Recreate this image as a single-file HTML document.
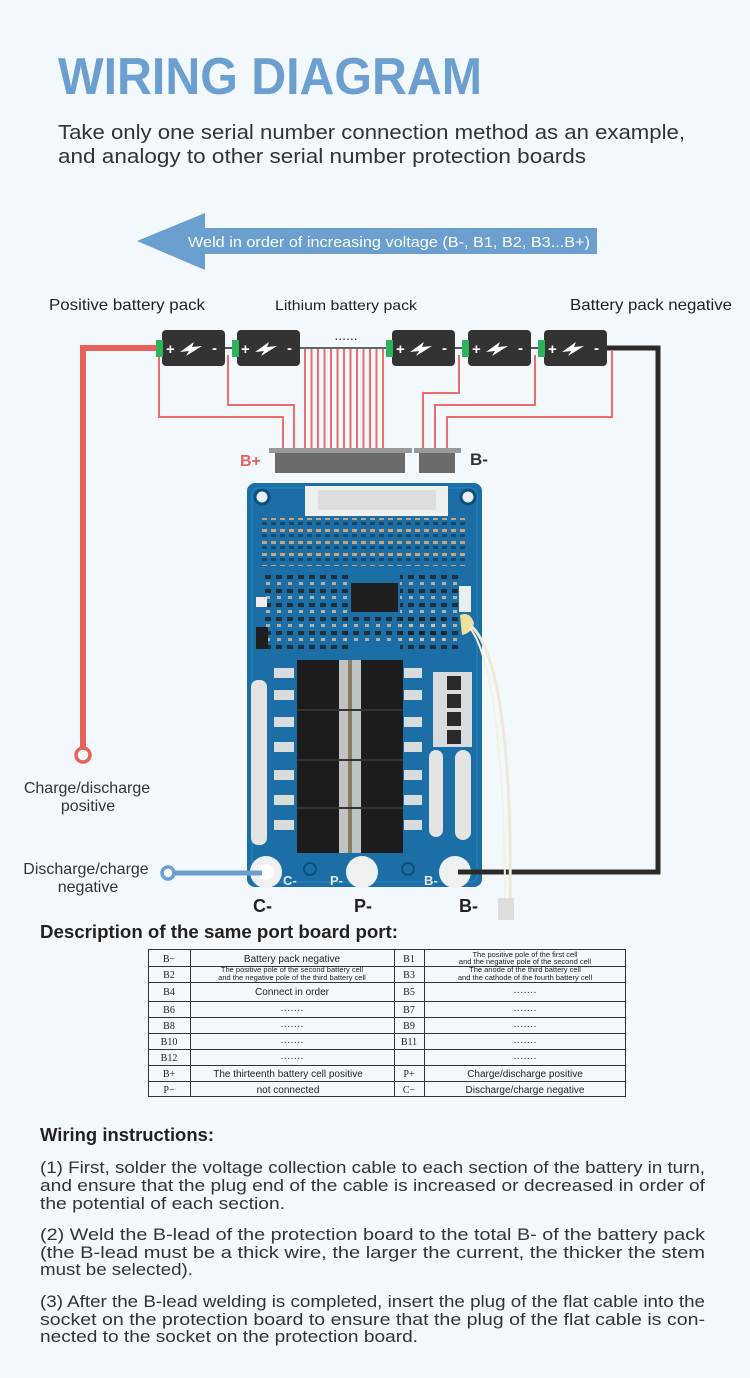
<!DOCTYPE html>
<html><head><meta charset="utf-8"><style>
html,body{margin:0;padding:0;background:#f3f8fd;}
svg{display:block;}
text{font-family:"Liberation Sans",sans-serif;}
.s{font-family:"Liberation Serif",serif;}
</style></head><body>
<svg width="750" height="1378" viewBox="0 0 750 1378" xmlns="http://www.w3.org/2000/svg">
<defs>
<pattern id="comp" width="9" height="12" patternUnits="userSpaceOnUse">
<rect x="1" y="1" width="5" height="3" fill="#c9a27a"/>
<rect x="1" y="6" width="5" height="3" fill="#14496f"/>
</pattern>
<pattern id="comp2" width="11" height="14" patternUnits="userSpaceOnUse">
<rect x="1" y="1" width="6" height="4" fill="#1f1f1f" opacity=".8"/>
<rect x="2" y="8" width="4" height="3" fill="#d6c3a5" opacity=".8"/>
</pattern>
</defs>
<rect width="750" height="1378" fill="#f3f8fd"/>
<!-- Title -->
<text x="58" y="94" font-size="52" font-weight="bold" fill="#6a9fcf" textLength="424" lengthAdjust="spacingAndGlyphs">WIRING DIAGRAM</text>
<text x="58" y="139" font-size="20" fill="#333" textLength="627" lengthAdjust="spacingAndGlyphs">Take only one serial number connection method as an example,</text>
<text x="58" y="163" font-size="20" fill="#333" textLength="528" lengthAdjust="spacingAndGlyphs">and analogy to other serial number protection boards</text>
<!-- Arrow -->
<polygon points="137,241 205,213 205,228 597,228 597,254 205,254 205,270" fill="#6a9fcf"/>
<text x="188" y="247" font-size="15" fill="#fff" textLength="402" lengthAdjust="spacingAndGlyphs">Weld in order of increasing voltage (B-, B1, B2, B3...B+)</text>
<!-- labels -->
<text x="49" y="310" font-size="16" fill="#222" textLength="156" lengthAdjust="spacingAndGlyphs">Positive battery pack</text>
<text x="275" y="310" font-size="14" fill="#222" textLength="142" lengthAdjust="spacingAndGlyphs">Lithium battery pack</text>
<text x="570" y="310" font-size="16" fill="#222" textLength="162" lengthAdjust="spacingAndGlyphs">Battery pack negative</text>
<!-- red thick positive wire -->
<path d="M157,348 H83 V750" stroke="#e8605a" stroke-width="6" fill="none"/>
<circle cx="83" cy="755" r="7" fill="#fff" stroke="#e8605a" stroke-width="3.5"/>
<!-- black negative wire -->
<path d="M606,348 H658 V872 H458" stroke="#2b2b2b" stroke-width="5" fill="none"/>
<!-- connecting gray lines -->
<line x1="225" y1="348" x2="237" y2="348" stroke="#555" stroke-width="2"/>
<line x1="300" y1="348" x2="392" y2="348" stroke="#666" stroke-width="2"/>
<line x1="455" y1="348" x2="468" y2="348" stroke="#555" stroke-width="2"/>
<line x1="531" y1="348" x2="544" y2="348" stroke="#555" stroke-width="2"/>
<text x="346" y="340" font-size="14" fill="#333" text-anchor="middle">......</text>
<!-- thin red wires -->
<g stroke="#ec6e6c" stroke-width="2" fill="none">
<path d="M159,355 V417 H283 V449"/>
<path d="M228,355 V405 H294 V449"/>
<path d="M459,355 V393 H423 V449"/>
<path d="M535,355 V405 H435 V449"/>
<path d="M612,350 V417 H447 V449"/>
<path d="M305,349V449M311.5,349V449M318,349V449M324.5,349V449M331,349V449M337.5,349V449M344,349V449M350.5,349V449M357,349V449M363.5,349V449M370,349V449M376.5,349V449M383,349V449"/>
</g>
<!-- batteries -->
<g>
<rect x="162" y="330" width="63" height="36" rx="4" fill="#333"/>
<rect x="237" y="330" width="63" height="36" rx="4" fill="#333"/>
<rect x="392" y="330" width="63" height="36" rx="4" fill="#333"/>
<rect x="468" y="330" width="63" height="36" rx="4" fill="#333"/>
<rect x="544" y="330" width="63" height="36" rx="4" fill="#333"/>
<g fill="#2db35c">
<rect x="156" y="340" width="7" height="17"/><rect x="232" y="340" width="7" height="17"/><rect x="386" y="340" width="7" height="17"/><rect x="462" y="340" width="7" height="17"/><rect x="538" y="340" width="7" height="17"/>
</g>
<g fill="#fff" font-size="15" font-weight="bold">
<text x="166" y="354">+</text><text x="212" y="353">-</text>
<text x="241" y="354">+</text><text x="287" y="353">-</text>
<text x="396" y="354">+</text><text x="442" y="353">-</text>
<text x="472" y="354">+</text><text x="518" y="353">-</text>
<text x="548" y="354">+</text><text x="594" y="353">-</text>
</g>
<g fill="#fff">
<polygon points="180,352 194,342 192,347 202,346 186,356 189,351"/>
<polygon points="255,352 269,342 267,347 277,346 261,356 264,351"/>
<polygon points="410,352 424,342 422,347 432,346 416,356 419,351"/>
<polygon points="486,352 500,342 498,347 508,346 492,356 495,351"/>
<polygon points="562,352 576,342 574,347 584,346 568,356 571,351"/>
</g>
</g>
<!-- connectors -->
<rect x="269" y="448" width="143" height="5" fill="#9a9a9a"/>
<rect x="414" y="448" width="47" height="5" fill="#9a9a9a"/>
<rect x="275" y="453" width="130" height="20" fill="#6b6b6b"/>
<rect x="419" y="453" width="36" height="20" fill="#6b6b6b"/>
<text x="240" y="466" font-size="16" font-weight="bold" fill="#e8605a">B+</text>
<text x="470" y="465" font-size="17" font-weight="bold" fill="#333">B-</text>
<!-- board -->
<rect x="247" y="483" width="235" height="404" rx="8" fill="#1b6fa6"/>
<rect x="252" y="488" width="225" height="394" rx="6" fill="none" stroke="#2d84bd" stroke-width="1"/>
<circle cx="262" cy="497" r="7" fill="#e9eef2" stroke="#0e4f7d" stroke-width="3"/>
<circle cx="468" cy="497" r="7" fill="#e9eef2" stroke="#0e4f7d" stroke-width="3"/>
<rect x="305" y="486" width="143" height="30" fill="#eef0f0"/>
<rect x="318" y="490" width="118" height="20" fill="#dcdede"/>
<rect x="262" y="518" width="206" height="48" fill="url(#comp)"/>
<rect x="262" y="572" width="86" height="80" fill="url(#comp2)"/>
<rect x="400" y="572" width="60" height="80" fill="url(#comp2)"/>
<rect x="345" y="616" width="100" height="28" fill="url(#comp2)"/>
<rect x="351" y="583" width="47" height="29" fill="#1f1f1f"/>
<rect x="256" y="597" width="11" height="10" fill="#eee"/>
<rect x="256" y="627" width="12" height="22" fill="#1f1f1f"/>
<rect x="459" y="586" width="12" height="26" fill="#e9eef2"/>
<path d="M460,615 q10,-4 14,8 q-2,10 -12,12 z" fill="#f1df9c"/>
<!-- white pad strips -->
<rect x="251" y="680" width="16" height="165" rx="7" fill="#e4e4e2"/>
<rect x="429" y="750" width="14" height="87" rx="7" fill="#e4e4e2"/>
<rect x="455" y="750" width="16" height="90" rx="8" fill="#e4e4e2"/>
<rect x="433" y="672" width="39" height="75" fill="#d8dcdc"/>
<g fill="#2a2a2a"><rect x="447" y="676" width="14" height="14"/><rect x="447" y="694" width="14" height="14"/><rect x="447" y="712" width="14" height="14"/><rect x="447" y="730" width="14" height="14"/></g>
<!-- mosfet leads -->
<g fill="#d9dcdc">
<rect x="274" y="668" width="20" height="10"/><rect x="274" y="690" width="20" height="10"/><rect x="274" y="717" width="20" height="10"/><rect x="274" y="742" width="20" height="10"/><rect x="274" y="770" width="20" height="10"/><rect x="274" y="795" width="20" height="10"/><rect x="274" y="820" width="20" height="10"/>
<rect x="404" y="668" width="18" height="10"/><rect x="404" y="690" width="18" height="10"/><rect x="404" y="717" width="18" height="10"/><rect x="404" y="742" width="18" height="10"/><rect x="404" y="770" width="18" height="10"/><rect x="404" y="795" width="18" height="10"/><rect x="404" y="820" width="18" height="10"/>
</g>
<rect x="297" y="660" width="106" height="193" fill="#1c1c1c"/>
<rect x="339" y="660" width="22" height="193" fill="#bfc3c4"/>
<rect x="348" y="660" width="4" height="193" fill="#8a7d5e"/>
<g stroke="#333" stroke-width="2"><line x1="297" y1="710" x2="403" y2="710"/><line x1="297" y1="760" x2="403" y2="760"/><line x1="297" y1="808" x2="403" y2="808"/></g>
<!-- bottom holes -->
<circle cx="266" cy="872" r="16" fill="#eef0f1"/><circle cx="266" cy="872" r="8" fill="#fff"/>
<circle cx="362" cy="872" r="16" fill="#eef0f1"/>
<circle cx="455" cy="872" r="16" fill="#eef0f1"/>
<circle cx="310" cy="869" r="6" fill="#1b6fa6" stroke="#0e4f7d" stroke-width="2"/>
<circle cx="408" cy="869" r="6" fill="#1b6fa6" stroke="#0e4f7d" stroke-width="2"/>
<text x="283" y="885" font-size="13" font-weight="bold" fill="#e4e8ea">C-</text>
<text x="330" y="885" font-size="13" font-weight="bold" fill="#e4e8ea">P-</text>
<text x="424" y="885" font-size="13" font-weight="bold" fill="#e4e8ea">B-</text>
<line x1="458" y1="872" x2="482" y2="872" stroke="#2b2b2b" stroke-width="5"/>
<!-- white sensor wire -->
<path d="M470,625 C500,650 512,760 510,900" stroke="#eee9d6" stroke-width="3" fill="none"/>
<path d="M470,628 C495,660 505,780 505,900" stroke="#f4f1e4" stroke-width="2" fill="none"/>
<rect x="498" y="898" width="16" height="22" fill="#ddd"/>
<!-- blue negative wire -->
<line x1="171" y1="873" x2="262" y2="873" stroke="#6a9fcf" stroke-width="5"/>
<circle cx="168" cy="873" r="6" fill="#fff" stroke="#6a9fcf" stroke-width="3.5"/>
<!-- side labels -->
<text x="87" y="793" font-size="16" fill="#333" text-anchor="middle">Charge/discharge</text>
<text x="88" y="811" font-size="16" fill="#333" text-anchor="middle">positive</text>
<text x="86" y="874" font-size="16" fill="#333" text-anchor="middle">Discharge/charge</text>
<text x="88" y="892" font-size="16" fill="#333" text-anchor="middle">negative</text>
<text x="253" y="912" font-size="18" font-weight="bold" fill="#222">C-</text>
<text x="354" y="912" font-size="18" font-weight="bold" fill="#222">P-</text>
<text x="459" y="912" font-size="18" font-weight="bold" fill="#222">B-</text>
<text x="40" y="938" font-size="18" font-weight="bold" fill="#222" textLength="358" lengthAdjust="spacingAndGlyphs">Description of the same port board port:</text>
<!-- table -->
<g stroke="#333" stroke-width="1" fill="none">
<rect x="148.5" y="949.5" width="477" height="147"/>
<line x1="190.5" y1="950" x2="190.5" y2="1097"/>
<line x1="394.5" y1="950" x2="394.5" y2="1097"/>
<line x1="424.5" y1="950" x2="424.5" y2="1097"/>
<path d="M148,966.5H626M148,982.5H626M148,1001.5H626M148,1017.5H626M148,1033.5H626M148,1049.5H626M148,1065.5H626M148,1081.5H626"/>
</g>
<g font-size="10" fill="#222" text-anchor="middle">
<text class="s" x="169" y="962">B−</text><text x="292" y="962">Battery pack negative</text><text class="s" x="409" y="962">B1</text>
<text x="525" y="957" font-size="7.5">The positive pole of the first cell</text><text x="525" y="964" font-size="7.5">and the negative pole of the second cell</text>
<text class="s" x="169" y="978">B2</text>
<text x="292" y="972" font-size="7.5">The positive pole of the second battery cell</text><text x="292" y="980" font-size="7.5">and the negative pole of the third battery cell</text>
<text class="s" x="409" y="978">B3</text>
<text x="525" y="972" font-size="7.5">The anode of the third battery cell</text><text x="525" y="980" font-size="7.5">and the cathode of the fourth battery cell</text>
<text class="s" x="169" y="995">B4</text><text x="292" y="995">Connect in order</text><text class="s" x="409" y="995">B5</text><text x="525" y="995">·······</text>
<text class="s" x="169" y="1013">B6</text><text x="292" y="1013">·······</text><text class="s" x="409" y="1013">B7</text><text x="525" y="1013">·······</text>
<text class="s" x="169" y="1029">B8</text><text x="292" y="1029">·······</text><text class="s" x="409" y="1029">B9</text><text x="525" y="1029">·······</text>
<text class="s" x="169" y="1045">B10</text><text x="292" y="1045">·······</text><text class="s" x="409" y="1045">B11</text><text x="525" y="1045">·······</text>
<text class="s" x="169" y="1061">B12</text><text x="292" y="1061">·······</text><text x="525" y="1061">·······</text>
<text class="s" x="169" y="1077">B+</text><text x="288" y="1077">The thirteenth battery cell positive</text><text class="s" x="409" y="1077">P+</text><text x="525" y="1077">Charge/discharge positive</text>
<text class="s" x="169" y="1093">P−</text><text x="288" y="1093">not connected</text><text class="s" x="409" y="1093">C−</text><text x="525" y="1093">Discharge/charge negative</text>
</g>
<!-- instructions -->
<text x="40" y="1141" font-size="18" font-weight="bold" fill="#222" textLength="174" lengthAdjust="spacingAndGlyphs">Wiring instructions:</text>
<g font-size="17" fill="#333">
<text x="40" y="1173" textLength="665" lengthAdjust="spacingAndGlyphs">(1) First, solder the voltage collection cable to each section of the battery in turn,</text>
<text x="40" y="1191" textLength="665" lengthAdjust="spacingAndGlyphs">and ensure that the plug end of the cable is increased or decreased in order of</text>
<text x="40" y="1209" textLength="245" lengthAdjust="spacingAndGlyphs">the potential of each section.</text>
<text x="40" y="1240" textLength="665" lengthAdjust="spacingAndGlyphs">(2) Weld the B-lead of the protection board to the total B- of the battery pack</text>
<text x="40" y="1258" textLength="665" lengthAdjust="spacingAndGlyphs">(the B-lead must be a thick wire, the larger the current, the thicker the stem</text>
<text x="40" y="1275" textLength="153" lengthAdjust="spacingAndGlyphs">must be selected).</text>
<text x="40" y="1307" textLength="665" lengthAdjust="spacingAndGlyphs">(3) After the B-lead welding is completed, insert the plug of the flat cable into the</text>
<text x="40" y="1325" textLength="665" lengthAdjust="spacingAndGlyphs">socket on the protection board to ensure that the plug of the flat cable is con-</text>
<text x="40" y="1342" textLength="378" lengthAdjust="spacingAndGlyphs">nected to the socket on the protection board.</text>
</g>
</svg>
</body></html>
